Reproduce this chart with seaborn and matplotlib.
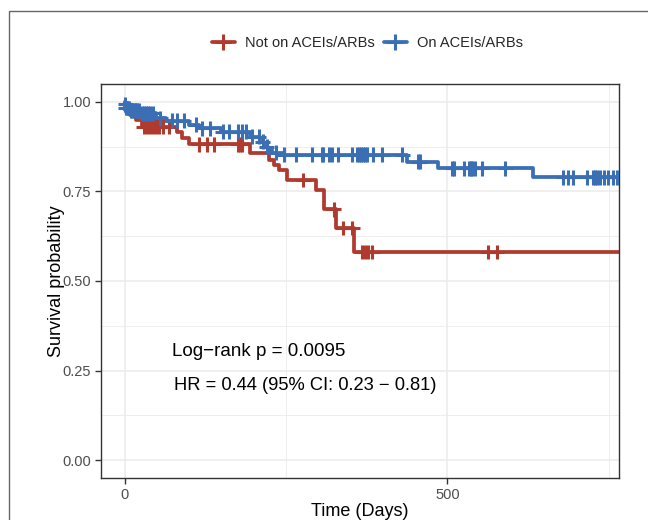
import numpy as np
import pandas as pd
import matplotlib
matplotlib.use("Agg")
import matplotlib.pyplot as plt
import seaborn as sns
from matplotlib.lines import Line2D
from matplotlib.patches import Rectangle

groups = ["Not on ACEIs/ARBs", "On ACEIs/ARBs"]
colors = ["#B03A2E", "#3A6EB5"]

# Kaplan-Meier steps: time (days) and survival after each step
not_on_time = [0, 1, 9, 17, 27, 82, 89, 100, 195, 224, 231, 240, 252, 296, 309, 328, 355, 800]
not_on_surv = [1.0, 0.978, 0.964, 0.95, 0.931, 0.917, 0.90, 0.882, 0.857, 0.838, 0.824, 0.81,
               0.782, 0.754, 0.70, 0.648, 0.581, 0.581]
not_on_censor = [30, 35, 40, 44, 48, 53, 59, 69, 115, 128, 138, 175, 179, 182, 277, 324,
                 339, 353, 368, 372, 377, 384, 563, 577]

on_time = [0, 1, 2, 9, 25, 48, 64, 100, 115, 149, 195, 210, 216, 222, 229, 247, 437, 485, 633, 800]
on_surv = [1.0, 0.994, 0.983, 0.975, 0.968, 0.954, 0.947, 0.936, 0.927, 0.917, 0.903, 0.889,
           0.875, 0.866, 0.858, 0.852, 0.833, 0.815, 0.789, 0.789]
on_censor = [1, 2, 4, 5, 7, 10, 12, 14, 16, 18, 20, 22, 27, 30, 33, 36, 40, 44, 55, 74, 82, 92,
             110, 120, 133, 152, 162, 175, 182, 188, 198, 208, 214, 220, 234, 247, 265, 291, 306,
             308, 316, 322, 330, 353, 360, 363, 366, 370, 373, 376, 385, 399, 430, 455, 458, 508,
             511, 526, 533, 536, 539, 543, 554, 590, 680, 687, 695, 717, 726, 729, 732, 737, 742,
             749, 757, 763]

pval_text = "Log\u2212rank p = 0.0095"
hr_text = "HR = 0.44 (95% CI: 0.23 \u2212 0.81)"


def censor_points(times, surv, cens):
    idx = np.searchsorted(times, cens, side="right") - 1
    return np.asarray(surv)[idx]


curves = pd.concat([
    pd.DataFrame({"time": not_on_time, "surv": not_on_surv, "group": groups[0]}),
    pd.DataFrame({"time": on_time, "surv": on_surv, "group": groups[1]}),
])
cens = pd.concat([
    pd.DataFrame({"time": not_on_censor,
                  "surv": censor_points(not_on_time, not_on_surv, not_on_censor),
                  "group": groups[0]}),
    pd.DataFrame({"time": on_censor,
                  "surv": censor_points(on_time, on_surv, on_censor),
                  "group": groups[1]}),
])

sns.set_theme(style="white")
plt.rcParams["font.family"] = ["Liberation Sans", "DejaVu Sans"]

fig = plt.figure(figsize=(6.48, 5.2), dpi=100)
ax = fig.add_axes([101 / 648, 1 - 478 / 520, 518 / 648, 394 / 520])
pal = dict(zip(groups, colors))

sns.lineplot(data=curves, x="time", y="surv", hue="group", palette=pal, estimator=None,
             drawstyle="steps-post", lw=2.7, legend=False, ax=ax, zorder=2)
sns.scatterplot(data=cens, x="time", y="surv", hue="group", palette=pal, marker="+",
                s=115, linewidth=2.2, legend=False, ax=ax, zorder=3)

ax.set_xlim(-36.5, 766)
ax.set_ylim(-0.05, 1.05)
ax.set_xticks([0, 500])
ax.set_xticks([250, 750], minor=True)
ax.set_yticks([0, 0.25, 0.5, 0.75, 1.0])
ax.set_yticklabels(["0.00", "0.25", "0.50", "0.75", "1.00"])
ax.set_yticks([0.125, 0.375, 0.625, 0.875], minor=True)
ax.grid(True, which="major", color="#EBEBEB", lw=1.1, zorder=0)
ax.grid(True, which="minor", color="#EBEBEB", lw=0.6, zorder=0)
ax.set_axisbelow(True)
for sp in ax.spines.values():
    sp.set_color("#333333")
    sp.set_linewidth(1.0)
ax.tick_params(which="major", length=4, width=1, color="#333333", labelcolor="#4D4D4D",
               labelsize=10.5, pad=3, left=True, bottom=True)
ax.tick_params(which="minor", length=0)

ax.set_xlabel("Time (Days)", fontsize=13, color="black", labelpad=1)
ax.set_ylabel("Survival probability", fontsize=13, color="black", labelpad=-2)

ax.text(73, 0.302, pval_text, ha="left", va="center", fontsize=13.5, color="black")
ax.text(76, 0.207, hr_text, ha="left", va="center", fontsize=13.2, color="black")

handles = [Line2D([], [], color=c, lw=2.7, marker="+", markersize=11, mew=2.2) for c in colors]
fig.legend(handles, groups, loc="center", bbox_to_anchor=(0.567, 1 - 43 / 520), ncol=2,
           frameon=False, fontsize=10.5, handlelength=1.6, handletextpad=0.7,
           columnspacing=0.6)

fig.add_artist(Rectangle((9 / 648, -0.1), 1.2, 1 - 11 / 520 + 0.1, transform=fig.transFigure,
                         fill=False, edgecolor="#666666", lw=1.0, clip_on=False))

fig.savefig("out.png", dpi=100)
